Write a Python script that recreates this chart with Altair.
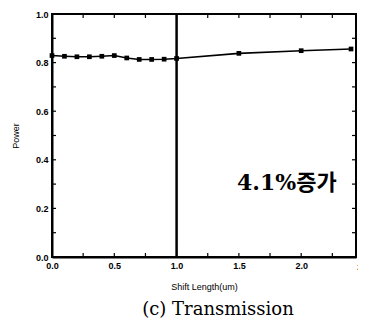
import altair as alt
import pandas as pd

shift = [0.0, 0.1, 0.2, 0.3, 0.4, 0.5, 0.6, 0.7, 0.8, 0.9, 1.0, 1.5, 2.0, 2.4]
power = [0.829, 0.826, 0.824, 0.824, 0.826, 0.829, 0.819, 0.813, 0.813, 0.814, 0.817, 0.838, 0.849, 0.856]
x_ticks = [0.0, 0.25, 0.5, 0.75, 1.0, 1.25, 1.5, 1.75, 2.0, 2.25]
y_ticks = [0.0, 0.1, 0.2, 0.3, 0.4, 0.5, 0.6, 0.7, 0.8, 0.9, 1.0]
x_labels = [0.0, 0.5, 1.0, 1.5, 2.0]
marker_x = [1.0]
note_text = ["4.1%증가"]
note_x = [1.885]
note_y = [0.305]

W, H = 304, 243
df = pd.DataFrame({"shift": shift, "power": power})
xt = pd.DataFrame({"t": x_ticks})
yt = pd.DataFrame({"t": y_ticks})

xs = alt.Scale(domain=[0, 2.44], nice=False, zero=False)
ys = alt.Scale(domain=[0, 1.0], nice=False)

lab_font = "Liberation Sans"

line = alt.Chart(df).mark_line(color="black", strokeWidth=1.6).encode(
    x=alt.X("shift:Q", scale=xs, title="Shift Length(um)",
            axis=alt.Axis(values=x_labels, format=".1f", ticks=False, labelFontWeight="bold",
                          labelFont=lab_font, labelFontSize=9, labelColor="black",
                          domainColor="black", domainWidth=2, grid=False, labelPadding=4,
                          titleFont=lab_font, titleFontSize=9, titleFontWeight="normal",
                          titleColor="black", titlePadding=12, labelFlush=False)),
    y=alt.Y("power:Q", scale=ys, title="Power",
            axis=alt.Axis(values=y_ticks, ticks=False,
                          labelExpr="round(datum.value*10) % 2 == 0 ? format(datum.value, '.1f') : ''",
                          labelFontWeight="bold", labelFont=lab_font, labelFontSize=9,
                          labelColor="black", domainColor="black", domainWidth=2, grid=False,
                          labelPadding=4, titleFont=lab_font, titleFontSize=9,
                          titleFontWeight="normal", titleColor="black", titlePadding=15,
                          labelFlush=False)),
)
pts = alt.Chart(df).mark_square(color="black", size=22, opacity=1, filled=True).encode(
    x=alt.X("shift:Q", scale=xs), y=alt.Y("power:Q", scale=ys)
)

vline = alt.Chart(pd.DataFrame({"v": marker_x})).mark_rule(color="black", strokeWidth=2.5).encode(
    x=alt.X("v:Q", scale=xs)
)

tick_len = 4
bot = alt.Chart(xt).mark_rule(color="black", strokeWidth=1.2).encode(
    x=alt.X("t:Q", scale=xs), y=alt.value(H), y2=alt.value(H - tick_len))
top = alt.Chart(xt).mark_rule(color="black", strokeWidth=1.2).encode(
    x=alt.X("t:Q", scale=xs), y=alt.value(0), y2=alt.value(tick_len))
left = alt.Chart(yt).mark_rule(color="black", strokeWidth=1.2).encode(
    y=alt.Y("t:Q", scale=ys), x=alt.value(0), x2=alt.value(tick_len))
right = alt.Chart(yt).mark_rule(color="black", strokeWidth=1.2).encode(
    y=alt.Y("t:Q", scale=ys), x=alt.value(W), x2=alt.value(W - tick_len))

extra_lab = alt.Chart(pd.DataFrame({"v": [2.5], "s": ["2.5"]})).mark_text(
    font=lab_font, fontSize=9, fontWeight="bold", baseline="top", dy=6, color="black"
).encode(x=alt.X("v:Q", scale=xs), y=alt.value(H), text="s:N")

note = alt.Chart(pd.DataFrame({"x": note_x, "y": note_y, "t": note_text})).mark_text(
    font="'DejaVu Serif', 'Noto Sans CJK KR'", fontSize=22, fontWeight="bold", color="black"
).encode(x=alt.X("x:Q", scale=xs), y=alt.Y("y:Q", scale=ys), text="t:N")

chart = alt.layer(vline, line, pts, bot, top, left, right, extra_lab, note).properties(
    width=W, height=H,
    background="white",
    autosize=alt.AutoSizeParams(type="none"),
    padding={"left": 44, "top": 6, "right": 2, "bottom": 64},
    title=alt.TitleParams("(c) Transmission", orient="bottom", anchor="middle",
                          font="'DejaVu Serif', 'Liberation Serif', serif", fontSize=18,
                          fontWeight="normal", color="black", offset=10, dx=14),
).configure_view(stroke="black", strokeWidth=2)

chart.save("out.html", embed_options={"renderer": "svg", "actions": False})
